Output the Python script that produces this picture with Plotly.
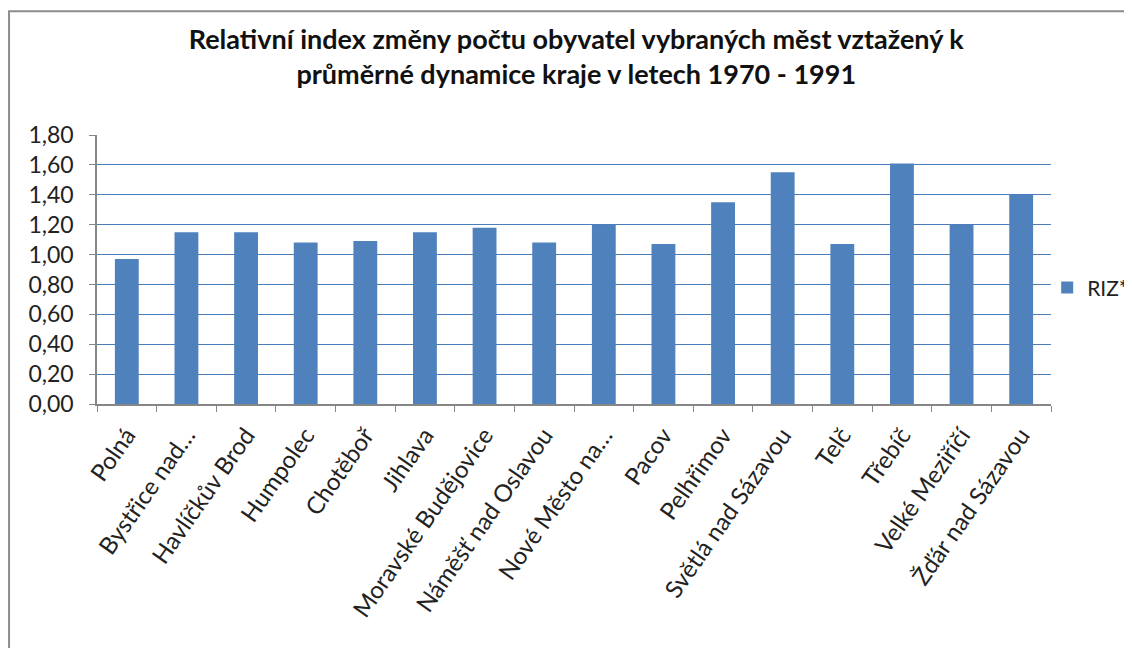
import plotly.graph_objects as go

mesta = ["Polná", "Bystřice nad…", "Havlíčkův Brod", "Humpolec", "Chotěboř",
         "Jihlava", "Moravské Budějovice", "Náměšť nad Oslavou", "Nové Město na…",
         "Pacov", "Pelhřimov", "Světlá nad Sázavou", "Telč", "Třebíč",
         "Velké Meziříčí", "Žďár nad Sázavou"]
riz = [0.97, 1.15, 1.15, 1.08, 1.09, 1.15, 1.18, 1.08, 1.20,
       1.07, 1.35, 1.55, 1.07, 1.61, 1.20, 1.40]
y_ticks = [0.0, 0.2, 0.4, 0.6, 0.8, 1.0, 1.2, 1.4, 1.6, 1.8]

font = "Lato, 'Open Sans', sans-serif"

fig = go.Figure()
fig.add_trace(go.Bar(
    x=mesta, y=riz, name="RIZ*",
    marker=dict(color="#4F81BD", line=dict(width=0)),
))

fig.update_layout(
    width=1132, height=648,
    paper_bgcolor="white", plot_bgcolor="white",
    margin=dict(l=89, r=89, t=127, b=252, autoexpand=False),
    separators=",.",
    bargap=0.6,
    font=dict(family=font, size=23, color="#222222"),
    title=dict(
        text="<b>Relativní index změny počtu obyvatel vybraných měst vztažený k<br>"
             "průměrné dynamice kraje v letech 1970 - 1991</b>",
        x=0.502, xanchor="center", y=0.937, yanchor="top",
        font=dict(family=font, size=27, color="#111111"),
    ),
    showlegend=True,
    legend=dict(xref="container", yref="container", x=0.918, y=0.568,
                xanchor="left", yanchor="middle",
                font=dict(size=21), bgcolor="rgba(0,0,0,0)"),
    shapes=[dict(type="rect", xref="paper", yref="paper",
                 x0=-0.0922, x1=1.3, y0=-2.0, y1=1.46,
                 line=dict(color="#8C8C8C", width=2), layer="below")],
)

fig.update_xaxes(
    tickangle=-55, showline=True, linecolor="#868686", linewidth=1.5,
    ticks="outside", tickson="boundaries", ticklen=6, tickcolor="#868686",
    showgrid=False, tickfont=dict(size=24), automargin=False,
    ticklabelstandoff=6,
)
fig.update_yaxes(
    range=[0, 1.8], tickvals=y_ticks, tickformat=".2f",
    showline=True, linecolor="#868686", linewidth=1.5,
    ticks="outside", ticklen=6, tickcolor="#868686",
    showgrid=True, gridcolor="#4A7EBB", gridwidth=1.2, zeroline=False,
    tickfont=dict(size=23), automargin=False, ticklabelstandoff=11,
)

fig.write_html("out.html")
